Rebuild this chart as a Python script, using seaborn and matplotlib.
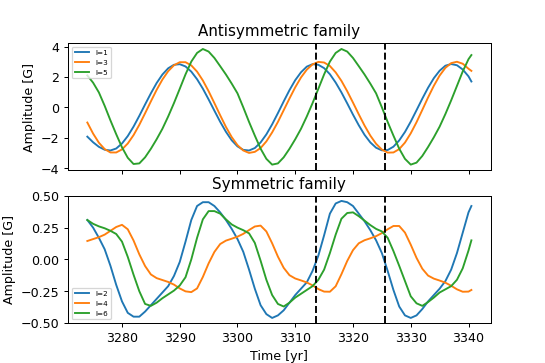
import numpy as np
import pandas as pd
import matplotlib
matplotlib.use("Agg")
import matplotlib.pyplot as plt
import seaborn as sns

# time axis (yr)
years = list(range(3274, 3341)) + [3340.5]

# antisymmetric family [G]
l1 = [-1.93, -2.30, -2.60, -2.79, -2.84, -2.71, -2.38, -1.89, -1.27, -0.56,
      0.19, 0.92, 1.60, 2.16, 2.57, 2.80, 2.84, 2.69, 2.35, 1.85,
      1.23, 0.52, -0.22, -0.95, -1.61, -2.17, -2.57, -2.80, -2.84, -2.68,
      -2.31, -1.78, -1.12, -0.38, 0.39, 1.13, 1.79, 2.31, 2.68, 2.84,
      2.80, 2.58, 2.18, 1.63, 0.98, 0.26, -0.48, -1.18, -1.81, -2.31,
      -2.66, -2.83, -2.81, -2.59, -2.18, -1.62, -0.94, -0.19, 0.57, 1.29,
      1.92, 2.41, 2.74, 2.85, 2.77, 2.49, 2.04, 1.70]
l3 = [-1.00, -1.73, -2.33, -2.75, -2.97, -2.97, -2.77, -2.38, -1.83, -1.15,
      -0.39, 0.39, 1.15, 1.83, 2.38, 2.77, 2.97, 2.97, 2.76, 2.35,
      1.77, 1.06, 0.28, -0.52, -1.29, -1.96, -2.49, -2.84, -3.00, -2.93,
      -2.68, -2.24, -1.65, -0.96, -0.19, 0.58, 1.32, 1.97, 2.48, 2.83,
      2.99, 2.95, 2.72, 2.30, 1.74, 1.06, 0.31, -0.46, -1.20, -1.86,
      -2.40, -2.78, -2.98, -2.97, -2.75, -2.32, -1.71, -0.98, -0.17, 0.65,
      1.42, 2.09, 2.60, 2.91, 3.00, 2.87, 2.54, 2.40]
l5 = [2.10, 1.62, 0.98, 0.10, -0.86, -1.77, -2.63, -3.32, -3.73, -3.69,
      -3.29, -2.73, -2.10, -1.41, -0.60, 0.28, 1.22, 2.17, 3.01, 3.58,
      3.84, 3.67, 3.25, 2.71, 2.16, 1.56, 0.92, 0.00, -0.96, -1.86,
      -2.72, -3.39, -3.77, -3.69, -3.29, -2.73, -2.10, -1.41, -0.60, 0.28,
      1.22, 2.17, 3.01, 3.58, 3.84, 3.67, 3.25, 2.71, 2.16, 1.56,
      0.92, 0.00, -0.96, -1.86, -2.72, -3.39, -3.77, -3.64, -3.20, -2.61,
      -1.97, -1.27, -0.44, 0.46, 1.41, 2.36, 3.17, 3.44]

# symmetric family [G]
l2 = [0.31, 0.25, 0.17, 0.08, -0.05, -0.20, -0.33, -0.42, -0.45, -0.45,
      -0.41, -0.36, -0.31, -0.26, -0.21, -0.13, -0.02, 0.14, 0.31, 0.42,
      0.45, 0.45, 0.42, 0.37, 0.31, 0.24, 0.16, 0.06, -0.08, -0.23,
      -0.36, -0.43, -0.46, -0.44, -0.40, -0.34, -0.28, -0.23, -0.18, -0.09,
      0.03, 0.19, 0.36, 0.44, 0.46, 0.45, 0.42, 0.36, 0.30, 0.23,
      0.15, 0.05, -0.09, -0.24, -0.37, -0.44, -0.46, -0.44, -0.39, -0.33,
      -0.28, -0.23, -0.17, -0.08, 0.05, 0.21, 0.37, 0.42]
l4 = [0.145, 0.160, 0.175, 0.195, 0.225, 0.255, 0.272, 0.237, 0.149, 0.040,
      -0.052, -0.118, -0.147, -0.162, -0.177, -0.198, -0.228, -0.251, -0.257, -0.228,
      -0.138, -0.031, 0.059, 0.121, 0.148, 0.163, 0.179, 0.201, 0.231, 0.259,
      0.266, 0.220, 0.127, 0.022, -0.066, -0.124, -0.150, -0.165, -0.181, -0.204,
      -0.233, -0.253, -0.254, -0.211, -0.116, -0.012, 0.073, 0.127, 0.151, 0.166,
      0.183, 0.207, 0.237, 0.263, 0.263, 0.211, 0.116, 0.012, -0.073, -0.127,
      -0.151, -0.166, -0.183, -0.207, -0.235, -0.254, -0.253, -0.240]
l6 = [0.31, 0.28, 0.26, 0.245, 0.225, 0.20, 0.14, 0.02, -0.12, -0.25,
      -0.35, -0.365, -0.34, -0.305, -0.275, -0.245, -0.205, -0.14, 0.00, 0.17,
      0.315, 0.38, 0.38, 0.36, 0.315, 0.275, 0.25, 0.23, 0.205, 0.13,
      -0.01, -0.16, -0.28, -0.35, -0.37, -0.34, -0.30, -0.27, -0.24, -0.21,
      -0.16, -0.08, 0.05, 0.195, 0.32, 0.365, 0.37, 0.34, 0.305, 0.27,
      0.24, 0.22, 0.17, 0.066, -0.05, -0.17, -0.29, -0.345, -0.365, -0.335,
      -0.30, -0.26, -0.235, -0.21, -0.16, -0.07, 0.07, 0.15]

anti_labels = ["l=1", "l=3", "l=5"]
sym_labels = ["l=2", "l=4", "l=6"]
vlines = [3313.6, 3325.6]


def long_frame(series, labels):
    parts = []
    for vals, lab in zip(series, labels):
        parts.append(pd.DataFrame({"time": years, "amp": vals, "mode": lab}))
    return pd.concat(parts, ignore_index=True)


anti_df = long_frame([l1, l3, l5], anti_labels)
sym_df = long_frame([l2, l4, l6], sym_labels)

palette = sns.color_palette("tab10", 3)

fig, axes = plt.subplots(2, 1, figsize=(6, 4), sharex=True)

ax = axes[0]
sns.lineplot(data=anti_df, x="time", y="amp", hue="mode", palette=palette, ax=ax)
for xv in vlines:
    ax.axvline(xv, color="k", ls="--")
ax.set_title("Antisymmetric family")
ax.set_ylabel("Amplitude [G]")
ax.set_xlabel("")
ax.legend(loc="upper left", fontsize="xx-small")

ax = axes[1]
sns.lineplot(data=sym_df, x="time", y="amp", hue="mode", palette=palette, ax=ax)
for xv in vlines:
    ax.axvline(xv, color="k", ls="--")
ax.set_title("Symmetric family")
ax.set_ylabel("Amplitude [G]")
ax.set_xlabel("Time [yr]")
ax.set_ylim(-0.5, 0.5)
ax.set_yticks([-0.5, -0.25, 0.0, 0.25, 0.5])
ax.legend(loc="lower left", fontsize="xx-small")

fig.savefig("out.png", dpi=90.85)
